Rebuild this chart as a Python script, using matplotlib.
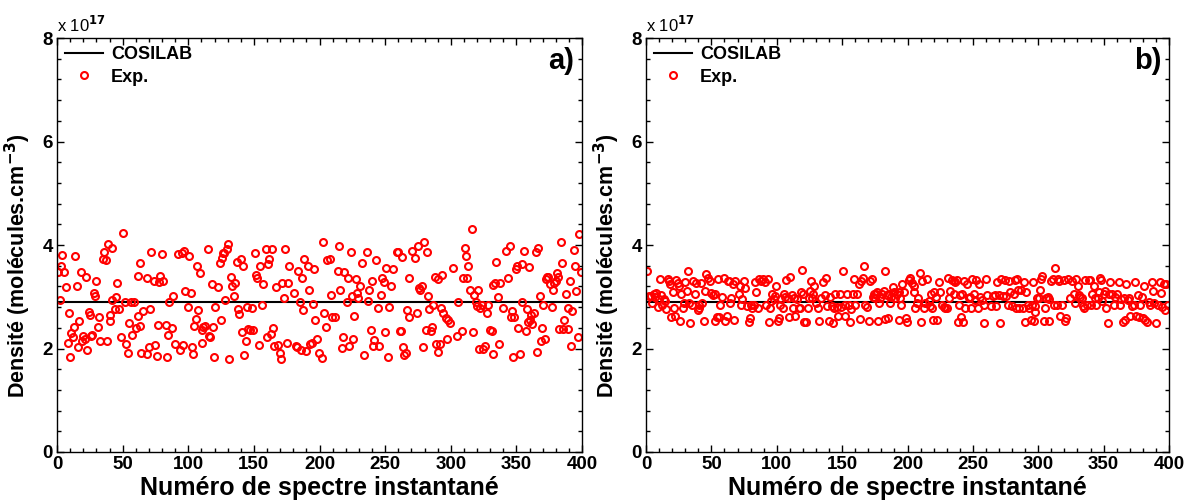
import numpy as np
import matplotlib
matplotlib.use("Agg")
import matplotlib.pyplot as plt
from matplotlib.ticker import MultipleLocator

plt.rcParams['font.family'] = ['Liberation Sans', 'DejaVu Sans']
plt.rcParams['font.weight'] = 'bold'

# COSILAB (valeur constante), en 1e17 molecules/cm3
cosilab_x = [0, 400]
cosilab_y = [2.9, 2.9]

# a) mesures exp.
xa = [1, 5, 3, 3.5, 2, 7, 9, 8, 10, 11, 12, 13, 14, 15, 16, 17, 18, 19, 20, 21, 22, 23, 24, 25, 26, 27, 28, 29, 30,
      31, 32, 33, 35, 36, 37, 38, 39, 40, 40.5, 41.6, 42, 44, 45, 45.5, 47, 49, 50, 52, 52.5, 54, 55, 56, 57, 59, 60,
      61.5, 61.5, 63, 63, 64, 65.8, 68.3, 68.8, 70, 70.9, 71.6, 73.9, 74.7, 76, 76.7, 77.7, 78.5, 79.7, 81, 82.8,
      83.8, 84.8, 85.6, 87.9, 88.6, 89.9, 92, 93.7, 95, 95.7, 97, 97.5, 99.6, 100.8, 102.1, 103.1, 103.9, 104.6,
      105.7, 106.4, 107.7, 109, 110.2, 111.5, 112.8, 110.7, 114.8, 115.8, 116.6, 117.8, 118.9, 119.9, 120.4, 122.9,
      124.2, 125, 125.5, 126.2, 128, 127.5, 129.3, 130, 131.3, 132.5, 133.6, 135.6, 134.9, 136.9, 137.7, 138.7,
      139.9, 140.7, 142, 142.7, 143.7, 144.5, 145.8, 147, 148.8, 149.6, 150.9, 151.6, 152.6, 153.9, 154.9, 155.9,
      157.2, 159, 159.7, 160.5, 161.5, 162.8, 164, 164.8, 165.6, 166.9, 168.6, 169.9, 170.7, 171.7, 173, 173.7,
      175, 176.3, 176.8, 180.8, 181.8, 182.6, 183.9, 185.1, 185.9, 186.9, 187.7, 188.4, 189.7, 191, 192, 192.8, 194,
      194.8, 195.8, 196.6, 197.8, 199.5, 201.7, 203, 203.7, 204.7, 206, 208, 208.8, 209.8, 211.8, 213.9, 214.9,
      215.7, 216.9, 218.2, 218.9, 220.7, 222, 222.8, 224, 225, 225.8, 226.6, 227.6, 228.3, 229.6, 230.9, 232.7,
      234.2, 236, 236.7, 238, 239, 239.8, 241, 241.8, 242.8, 244.9, 245.6, 246.9, 247.9, 248.9, 250, 250.7, 252,
      253, 254.8, 255.8, 258.8, 260.1, 261.4, 262.1, 263.1, 263.9, 264.7, 265.7, 266.4, 268.5, 268.5, 270.7, 272.7,
      274, 274.8, 275.8, 276.5, 277.8, 278.6, 279.8, 280.8, 281.6, 282.9, 283.6, 284.9, 285.9, 286.7, 288, 288.7,
      290, 290.5, 291.8, 292.5, 293.5, 294.3, 296.1, 296.8, 298.1, 299.4, 301.4, 304.5, 305.7, 308.8, 309.5, 310.8,
      311.6, 312.6, 313.4, 314.6, 316.2, 316.9, 317.7, 319, 319.7, 320.5, 321.5, 322.2, 323.5, 324.8, 326, 327.3,
      328.6, 329.9, 331.1, 331.9, 332.4, 333.7, 334.2, 335.7, 337, 337.5, 340, 341.8, 343.9, 345.1, 345.9, 346.9,
      347.7, 348.4, 349.4, 350.7, 351.5, 352.8, 354, 354.5, 356, 357.1, 357.8, 358.6, 359.6, 360.4, 361.1, 362.1,
      363.7, 364.7, 365.7, 366.7, 368, 368.8, 369.8, 370.5, 371.8, 372.3, 373.1, 374.3, 375.6, 376.9, 377.6, 378.9,
      379.9, 380.7, 382, 382.5, 384, 384.5, 385.8, 386.5, 387.5, 389.1, 389.6, 390.8, 391.6, 392.6, 393.6, 394.7,
      395.4, 396.7, 397.7, 399.2]
ya = [3.48, 3.48, 3.59, 3.81, 2.94, 3.18, 2.68, 2.10, 1.84, 2.29, 2.23, 2.42, 3.79, 3.21, 2.02, 2.54, 3.47, 2.15,
      2.24, 2.18, 3.39, 1.97, 2.71, 2.65, 2.24, 2.26, 3.07, 3.02, 3.31, 2.41, 2.60, 2.15, 3.72, 3.86, 3.71, 2.15,
      4.02, 2.65, 2.54, 3.94, 2.94, 2.76, 3.00, 3.26, 2.76, 2.23, 4.23, 2.89, 2.08, 1.92, 2.49, 2.89, 2.27, 2.89,
      2.39, 2.63, 3.40, 3.66, 2.44, 1.91, 2.73, 1.89, 3.37, 2.02, 2.76, 3.87, 3.31, 2.07, 1.85, 2.45, 3.29, 3.40,
      3.83, 3.30, 2.45, 1.84, 2.27, 2.90, 2.40, 3.01, 2.09, 3.83, 1.98, 3.84, 2.07, 3.89, 3.12, 2.80, 3.79, 3.08,
      2.02, 1.89, 2.44, 2.57, 3.59, 2.74, 3.45, 2.36, 2.41, 2.44, 2.11, 3.92, 2.24, 2.23, 3.24, 2.41, 1.83, 2.80,
      3.18, 3.66, 2.55, 3.74, 3.84, 2.94, 3.85, 3.92, 4.02, 1.79, 3.39, 3.20, 3.26, 3.02, 3.68, 2.76, 2.67, 3.73,
      2.31, 3.59, 1.87, 2.15, 2.80, 2.37, 2.36, 2.78, 2.36, 3.85, 3.42, 3.36, 2.07, 3.59, 2.84, 3.24, 3.92, 2.22,
      3.63, 3.72, 2.28, 3.92, 2.39, 2.05, 3.18, 2.07, 1.91, 1.79, 3.27, 2.97, 3.92, 2.11, 3.27, 3.60, 3.07, 2.05,
      2.02, 3.50, 2.90, 1.98, 3.36, 2.74, 3.72, 1.95, 3.59, 3.14, 2.09, 2.10, 2.86, 3.53, 2.55, 2.18, 1.91, 1.82,
      4.06, 2.69, 2.41, 3.71, 3.72, 3.03, 2.61, 2.60, 3.50, 3.98, 3.14, 2.01, 2.23, 3.47, 2.90, 3.36, 2.05, 3.86,
      3.01, 2.19, 2.63, 3.34, 3.08, 2.97, 3.20, 3.66, 1.87, 3.86, 2.92, 3.14, 2.36, 3.31, 2.05, 2.17, 3.71, 2.78,
      2.04, 3.03, 3.37, 3.29, 2.31, 3.56, 1.84, 2.80, 3.21, 3.53, 3.86, 3.86, 2.34, 2.34, 3.76, 2.02, 1.87, 1.92,
      2.74, 3.36, 2.60, 3.88, 3.74, 2.69, 3.98, 3.16, 3.13, 3.21, 2.02, 4.06, 2.36, 3.87, 3.01, 2.76, 2.33, 2.41,
      2.84, 3.38, 2.09, 3.34, 1.94, 2.09, 2.78, 3.42, 2.68, 2.58, 2.18, 2.56, 2.50, 3.55, 2.25, 2.90, 2.34, 3.36,
      3.94, 3.79, 3.36, 3.59, 3.14, 4.30, 2.31, 3.03, 2.90, 2.82, 3.14, 2.00, 2.78, 2.84, 2.00, 2.05, 2.69, 2.84,
      2.36, 2.34, 1.89, 3.23, 3.26, 3.68, 2.99, 2.09, 3.26, 2.78, 3.89, 3.36, 3.98, 2.61, 2.73, 1.84, 2.61, 3.53,
      3.59, 2.39, 1.89, 3.63, 2.89, 3.89, 2.34, 2.76, 2.52, 3.57, 2.56, 2.65, 2.47, 2.69, 3.87, 1.94, 3.95, 3.01,
      2.15, 2.40, 2.85, 2.18, 3.34, 3.38, 3.38, 3.24, 2.80, 3.13, 3.27, 3.31, 3.45, 3.38, 2.37, 4.05, 3.65, 2.37,
      2.56, 3.05, 2.37, 2.78, 3.31, 2.05, 2.73, 3.90, 3.59, 3.12, 2.23, 4.21, 3.48]

# b) mesures exp.
xb = [0.8, 2, 4, 4.6, 5.9, 7.1, 7.9, 9.2, 9.7, 11, 11.7, 12.2, 13.5, 14.3, 15.3, 16.8, 17.3, 18.6, 19.4, 20.4, 21.4,
      22.4, 23.2, 24.5, 25.5, 26.3, 27, 28, 28.8, 30.1, 31.4, 32.1, 32.6, 33.9, 35.2, 35.7, 37.2, 38.2, 39.8, 40.3,
      40.8, 42.3, 42.8, 44.1, 45.4, 46.1, 47.4, 49.2, 50, 51, 52.5, 53, 54.3, 55.1, 56.1, 56.9, 58.1, 59.4, 60.7, 62,
      62.7, 63.7, 65.3, 64.5, 66.5, 67.6, 68.3, 70.9, 71.6, 72.7, 73.4, 75.2, 76, 77.2, 78.5, 79.8, 80.3, 81.1,
      82.3, 83.6, 84.4, 85.7, 86.7, 88, 89.5, 90.8, 92, 93.1, 93.8, 94.6, 95.6, 96.4, 97.6, 98.9, 99.7, 100.7,
      101.5, 102.2, 103.2, 104.8, 105.8, 106.6, 107.3, 108.3, 109.1, 110.4, 111.7, 112.4, 113.4, 114.2, 115.5,
      116.8, 118, 118.5, 119.3, 120.1, 121.1, 122.6, 123.6, 124.4, 125.2, 126.2, 127, 127.7, 128.7, 130.3, 131.5,
      132.6, 134.1, 135.1, 136.6, 137.7, 138.4, 139.7, 141, 142.3, 142.8, 143.5, 144.8, 146.1, 146.8, 148.6, 149.4,
      150.7, 152, 152.5, 153.7, 154.9, 156.3, 157.1, 158.1, 158.8, 159.6, 161.4, 162.6, 163.4, 164.7, 166, 166.5,
      167.8, 169, 170.3, 171.6, 172.8, 173.4, 174.1, 174.9, 175.9, 176.7, 177.4, 178.5, 179.2, 180.5, 181.8, 182.5,
      183.1, 184.3, 185.1, 185.6, 186.9, 187.6, 188.7, 189.4, 190.7, 192, 193.2, 194.5, 195, 195.8, 193.2, 197.6,
      199.1, 199.6, 200.9, 202.2, 203.4, 204.7, 205.2, 206, 207.3, 207.8, 209.3, 210.3, 211.1, 212.4, 213.6, 214.9,
      216.2, 216.9, 218, 218.7, 219.5, 220.5, 222, 222.6, 223.8, 225.1, 226.4, 227.7, 229, 230.2, 230.7, 231.5,
      232.8, 234, 235.3, 235.8, 236.6, 237.9, 238.4, 239.1, 239.9, 240.9, 241.7, 242.4, 243.5, 244.2, 245.5, 246.8,
      247.5, 248.6, 249.3, 250.6, 251.9, 252.6, 253.7, 254.4, 255.7, 257, 258.3, 258.8, 260.3, 260.8, 264.1, 265.1,
      266.7, 267.7, 268.5, 270.2, 271, 271.8, 272.8, 274.3, 275.3, 276.9, 277.9, 278.6, 279.9, 281.2, 281.9, 283.2,
      283.7, 284.5, 285.5, 287.1, 288.1, 288.9, 289.6, 290.6, 292.2, 293.2, 294.7, 295.2, 295.7, 296.5, 297.3,
      297.8, 299.1, 300.3, 301.6, 302.4, 302.9, 304.1, 304.9, 305.9, 307.5, 307.9, 308.5, 310, 311.1, 311.7, 313.1,
      314.3, 315.1, 316.1, 316.9, 318.2, 319.4, 320.2, 321.2, 322.7, 324.5, 325.8, 327.1, 328.4, 329.1, 330.2,
      330.9, 332.2, 333.5, 334.2, 335.2, 336, 337.3, 338.6, 339.3, 340.3, 341.1, 342.4, 343.7, 344.4, 345.4, 346.2,
      347, 348, 348.8, 350, 351.3, 352.1, 353.1, 353.9, 355.1, 356.4, 357.7, 359, 360.2, 361.5, 362.3, 363.3, 364.8,
      365.8, 366.6, 367.4, 368.4, 369.2, 370.4, 371.7, 373, 374.3, 375, 376, 376.8, 378.1, 379.4, 380.1, 381.1,
      381.9, 383.2, 384.5, 385.7, 387, 387.8, 388.8, 390.3, 391.3, 392.9, 393.9, 394.7, 395.9, 397.2, 398, 399]
yb = [3.50, 3.02, 3.02, 2.87, 3.05, 3.00, 3.07, 2.81, 2.96, 3.34, 3.03, 2.85, 2.96, 2.91, 2.76, 3.34, 3.30, 3.24,
      2.60, 3.10, 2.79, 2.62, 3.32, 3.26, 3.20, 2.53, 3.05, 2.79, 2.87, 3.29, 3.11, 3.50, 2.87, 2.49, 2.84, 3.30,
      3.05, 3.26, 2.74, 2.84, 2.79, 3.26, 2.87, 2.53, 3.11, 3.43, 3.37, 3.30, 3.07, 3.03, 2.53, 3.05, 2.60, 3.34,
      2.60, 2.85, 3.00, 3.37, 2.53, 2.62, 3.30, 3.30, 2.98, 2.87, 3.24, 2.55, 3.30, 3.05, 3.21, 2.85, 2.96, 3.30,
      3.16, 2.83, 2.52, 2.58, 2.84, 2.78, 2.85, 3.29, 3.10, 2.79, 3.34, 3.30, 3.34, 3.28, 2.85, 3.34, 2.52, 2.79,
      2.91, 3.05, 2.96, 3.02, 3.20, 2.53, 2.58, 2.85, 2.96, 2.79, 3.05, 3.00, 3.32, 2.97, 2.60, 3.39, 3.03, 2.78,
      2.97, 2.62, 2.96, 2.79, 2.78, 3.10, 3.52, 3.05, 2.52, 2.52, 2.78, 2.97, 3.11, 3.30, 2.97, 3.05, 3.21, 2.87,
      2.79, 2.53, 2.97, 3.28, 3.03, 3.36, 2.83, 2.53, 3.00, 2.83, 2.49, 2.79, 3.05, 2.81, 2.62, 3.05, 2.81, 3.50,
      2.62, 2.85, 3.05, 2.85, 2.52, 2.76, 3.05, 3.34, 2.85, 3.05, 3.24, 2.57, 3.30, 3.37, 3.60, 2.85, 2.81, 2.53,
      3.30, 3.34, 3.00, 3.05, 2.97, 3.05, 3.10, 2.53, 2.87, 2.97, 3.05, 3.11, 2.57, 3.49, 3.03, 2.58, 3.05, 2.87,
      3.00, 3.18, 3.10, 2.98, 3.05, 3.10, 2.97, 2.84, 3.24, 2.55, 3.10, 2.58, 2.52, 3.32, 3.37, 3.26, 3.10, 3.20,
      2.78, 2.87, 2.97, 3.45, 2.52, 3.30, 2.79, 2.87, 3.34, 2.92, 2.83, 3.05, 2.79, 2.55, 3.10, 3.00, 2.55, 3.29,
      3.10, 2.85, 2.81, 2.78, 2.79, 3.36, 2.98, 3.11, 3.32, 3.05, 3.30, 3.28, 3.32, 2.52, 2.84, 3.03, 2.60, 3.05,
      2.52, 3.30, 2.78, 3.24, 2.97, 3.00, 2.79, 3.34, 3.05, 2.94, 3.32, 2.79, 3.24, 3.00, 2.94, 2.84, 2.49, 3.34,
      3.03, 2.82, 3.02, 3.03, 2.82, 3.29, 3.03, 2.49, 3.34, 3.02, 3.32, 3.02, 2.84, 3.30, 3.10, 2.83, 3.05, 3.32,
      2.79, 3.34, 3.13, 2.79, 3.13, 2.79, 3.29, 2.52, 3.10, 2.85, 2.79, 2.55, 2.85, 3.29, 2.53, 2.71, 2.83, 2.98,
      2.97, 3.13, 3.34, 3.41, 2.53, 2.79, 2.97, 3.00, 2.53, 2.96, 3.30, 3.34, 2.85, 3.55, 2.84, 3.34, 3.30, 2.62,
      2.84, 3.32, 2.53, 2.58, 3.34, 2.97, 3.30, 3.05, 2.87, 3.34, 3.21, 3.03, 3.00, 2.97, 2.83, 2.79, 3.32, 2.84,
      3.32, 3.32, 2.84, 3.05, 3.21, 2.97, 2.85, 2.98, 3.09, 3.37, 3.32, 2.91, 3.05, 3.11, 2.79, 2.49, 3.05, 3.29,
      3.05, 2.84, 3.00, 3.05, 3.29, 2.84, 2.96, 2.52, 2.97, 2.55, 3.24, 2.94, 2.97, 2.62, 2.83, 2.85, 3.29, 2.62,
      3.03, 2.60, 2.85, 3.00, 2.58, 3.21, 2.55, 2.52, 2.89, 2.84, 3.29, 3.11, 2.87, 2.49, 2.84, 3.29, 3.07, 2.81,
      3.24, 2.74, 3.24, 2.85]

xticks = [0, 50, 100, 150, 200, 250, 300, 350, 400]
yticks = [0, 2, 4, 6, 8]


def panneau(ax, x, y, lettre):
    ax.plot(cosilab_x, cosilab_y, color='black', lw=1.5, label='COSILAB')
    ax.plot(x, y, 'o', ls='none', mfc='none', mec='red', ms=5, mew=1.5, label='Exp.')
    ax.set_xlim(0, 400)
    ax.set_ylim(0, 8)
    ax.set_xticks(xticks)
    ax.set_yticks(yticks)
    ax.xaxis.set_minor_locator(MultipleLocator(10))
    ax.yaxis.set_minor_locator(MultipleLocator(0.4))
    ax.tick_params(which='both', direction='in', top=True, right=True, labelsize=13.5, width=1)
    ax.tick_params(which='major', length=5, pad=3)
    ax.tick_params(which='minor', length=3)
    for s in ax.spines.values():
        s.set_linewidth(1)
    for lab in ax.get_xticklabels() + ax.get_yticklabels():
        lab.set_fontweight('bold')
    ax.set_xlabel('Numéro de spectre instantané', fontsize=18, fontweight='bold', labelpad=2)
    ax.set_ylabel('Densité (molécules.cm$^{\\mathbf{-3}}$)', fontsize=15.5, fontweight='bold')
    ax.yaxis.set_label_coords(-0.046, 0.45)
    leg = ax.legend(loc='upper left', frameon=False, fontsize=13, handlelength=2.1,
                    borderaxespad=0.15, handletextpad=0.45, labelspacing=0.3, borderpad=0.3)
    for t in leg.get_texts():
        t.set_fontweight('bold')
    ax.text(0.985, 0.945, lettre, transform=ax.transAxes, ha='right', va='center',
            fontsize=21, fontweight='bold')
    ax.text(0.0, 1.008, 'x 10$^{17}$', transform=ax.transAxes, ha='left', va='bottom',
            fontsize=12, fontweight='normal')


fig = plt.figure(figsize=(11.92, 5.04), dpi=100)
ax1 = fig.add_axes([57 / 1192, 52 / 504, 525 / 1192, 414 / 504])
ax2 = fig.add_axes([646 / 1192, 52 / 504, 523 / 1192, 414 / 504])
panneau(ax1, xa, ya, 'a)')
panneau(ax2, xb, yb, 'b)')

fig.savefig('out.png', dpi=100)
